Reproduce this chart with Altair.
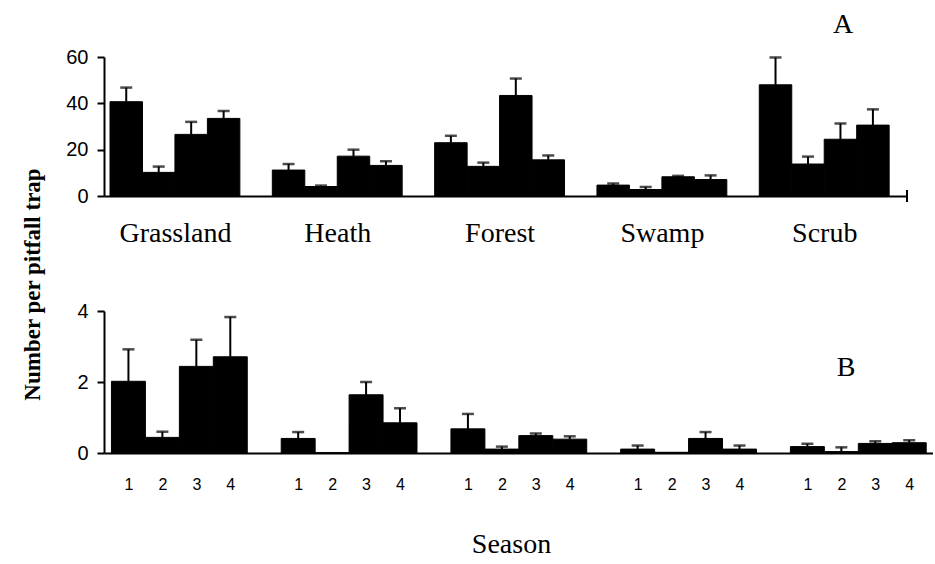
import json
import altair as alt
import pandas as pd

habitats = ["Grassland", "Heath", "Forest", "Swamp", "Scrub"]
seasons = ["1", "2", "3", "4"]

# Panel A: mean and upper error (mean + SE), order habitat x season
a_mean = [40.7, 10.2, 26.6, 33.5,
          11.2, 4.1, 17.2, 13.2,
          23.0, 12.8, 43.4, 15.6,
          4.7, 2.8, 8.3, 7.1,
          48.0, 13.8, 24.5, 30.6]
a_upper = [46.8, 12.7, 32.0, 36.7,
           13.8, 4.5, 20.0, 15.0,
           26.0, 14.4, 50.7, 17.5,
           5.4, 3.9, 8.7, 8.9,
           59.8, 17.0, 31.3, 37.4]

# Panel B
b_mean = [2.02, 0.44, 2.44, 2.71,
          0.41, 0.01, 1.64, 0.85,
          0.68, 0.11, 0.49, 0.39,
          0.11, 0.02, 0.41, 0.11,
          0.18, 0.04, 0.27, 0.29]
b_upper = [2.92, 0.60, 3.19, 3.83,
           0.59, 0.01, 2.00, 1.26,
           1.10, 0.18, 0.55, 0.47,
           0.21, 0.02, 0.59, 0.21,
           0.26, 0.16, 0.33, 0.36]

SERIF = "Liberation Serif"
SANS = "Liberation Sans"
SLOT = len(seasons) + 1  # 4 bars + one empty slot between habitats


def frame(means, uppers):
    rows = []
    for hi, h in enumerate(habitats):
        for si, s in enumerate(seasons):
            k = hi * len(seasons) + si
            p = hi * SLOT + si
            rows.append({"habitat": h, "season": s, "x0": p, "x1": p + 1,
                         "mid": p + 0.5, "val": means[k], "err": uppers[k],
                         "base": 0})
    return pd.DataFrame(rows)


def panel(df, xdom, ydom, yvals, width, height, xaxis, letter, letter_xy):
    xs = alt.Scale(domain=xdom, nice=False, zero=False)
    ys = alt.Scale(domain=ydom, nice=False, zero=True)
    yaxis = alt.Axis(values=yvals, title=None, labelFont=SANS, labelFontSize=20,
                     tickSize=7, tickWidth=2, domainWidth=2, labelPadding=9,
                     grid=False)
    bars = alt.Chart(df).mark_bar(color="black", stroke="black",
                                  strokeWidth=1).encode(
        x=alt.X("x0:Q", scale=xs, axis=xaxis),
        x2="x1:Q",
        y=alt.Y("val:Q", scale=ys, axis=yaxis),
        y2="base:Q",
    )
    eb = alt.Chart(df).transform_filter("datum.err > datum.val + 0.001")
    rules = eb.mark_rule(color="black", strokeWidth=2).encode(
        x="mid:Q", y="val:Q", y2="err:Q")
    caps = eb.mark_tick(orient="horizontal", color="black", thickness=2.5,
                        size=12).encode(x="mid:Q", y="err:Q")
    lab = alt.Chart(pd.DataFrame({"t": [letter]})).mark_text(
        font=SERIF, fontSize=28, align="center", baseline="alphabetic",
        color="black").encode(text="t:N", x=alt.value(letter_xy[0]),
                              y=alt.value(letter_xy[1]))
    return alt.layer(bars, rules, caps, lab).properties(width=width, height=height)


dfa = frame(a_mean, a_upper)
dfb = frame(b_mean, b_upper)

a_centers = [hi * SLOT + (len(seasons) / 2) for hi in range(len(habitats))]
xaxis_a = alt.Axis(values=a_centers,
                   labelExpr=json.dumps(habitats) + "[floor(datum.value / %d)]" % SLOT,
                   title=None, ticks=False, labelFont=SERIF, labelFontSize=28,
                   labelPadding=23, domainWidth=2, labelFlush=False,
                   labelOverlap=False, grid=False)

b_mids = list(dfb["mid"])
xaxis_b = alt.Axis(values=b_mids,
                   labelExpr="'' + (floor(datum.value) %% %d + 1)" % SLOT,
                   title="Season", titleFont=SERIF, titleFontSize=28,
                   titleFontWeight="normal", titleX=407, titleY=99,
                   titleBaseline="alphabetic", titleAlign="center",
                   ticks=False, labelFont=SANS, labelFontSize=16,
                   labelPadding=23, domainWidth=2, labelFlush=False,
                   labelOverlap=False, grid=False)

chart_a = panel(dfa, [-0.185, 24.55], [0, 60], [0, 20, 40, 60], 803, 139,
                xaxis_a, "A", (739, -24))
end_tick = alt.Chart(pd.DataFrame({"k": [0]})).mark_rule(
    color="black", strokeWidth=2).encode(
    x=alt.value(803), y=alt.value(133), y2=alt.value(145))
chart_a = alt.layer(chart_a, end_tick)

chart_b = panel(dfb, [-0.22, 24.2], [0, 4], [0, 2, 4], 829, 142,
                xaxis_b, "B", (742, 65))

chart = alt.vconcat(chart_a, chart_b, spacing=115, bounds="flush").properties(
    title=alt.TitleParams(text="Number per pitfall trap", orient="left",
                          anchor="middle", font=SERIF, fontSize=23,
                          fontWeight="bold", color="black", offset=21),
    padding={"left": 21, "top": 11, "right": 0, "bottom": 0},
    background="white",
).configure_view(stroke=None).configure_axis(
    domainColor="black", tickColor="black", labelColor="black", titleColor="black")

chart.save("out.html", embed_options={"renderer": "svg", "actions": False})
